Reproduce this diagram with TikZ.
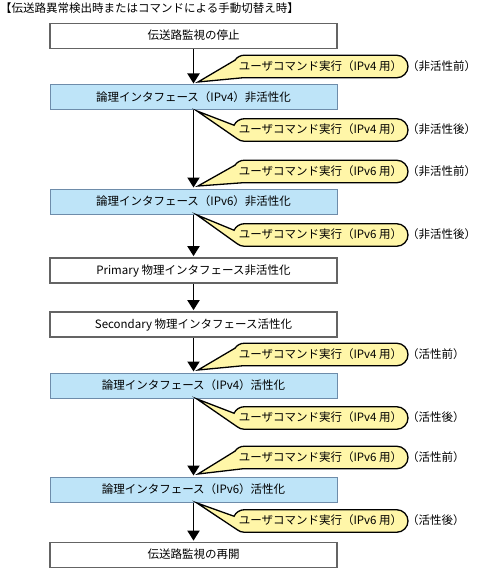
\documentclass[tikz,border=0pt]{standalone}
\usepackage{fontspec}
\setmainfont{Noto Sans CJK JP}
\usetikzlibrary{arrows.meta,calc}
\definecolor{boxblue}{RGB}{190,228,248}
\definecolor{blueline}{RGB}{110,140,170}
\definecolor{grayline}{RGB}{100,100,100}
\definecolor{bubbleyellow}{RGB}{255,246,168}
\newcommand\myfs{\fontsize{11.5pt}{13pt}\selectfont}
\tikzset{
  plainbox/.style={draw=grayline, line width=1.7pt, fill=white, minimum width=287pt, minimum height=25pt, inner sep=0pt, font=\myfs, text height=0.88em, text depth=0.12em},
  bluebox/.style={plainbox, draw=blueline, line width=1pt, fill=boxblue},
  flowarrow/.style={line width=1.9pt, -{Triangle[width=12pt,length=10pt]}, shorten >=1pt},
  bubble/.style={draw=black, line width=1.3pt, fill=bubbleyellow},
  bubbletext/.style={font=\myfs, inner sep=0pt, text height=0.88em, text depth=0.12em},
  sidelabel/.style={font=\myfs, anchor=west, inner sep=0pt, text height=0.88em, text depth=0.12em}
}
% before-type callout: #1 name, #2 centre y, #3 tip y, #4 text, #5 side label
\newcommand\calloutbefore[5]{%
  \coordinate (#1tip) at (198,#3);
  \filldraw[bubble] (#1tip) -- ($(244.25,#2)+(214:11.25)$) arc[start angle=214,end angle=270,radius=11.25]
     -- (396.75,#2-11.25) arc[start angle=270,end angle=450,radius=11.25]
     -- (244.25,#2+11.25) arc[start angle=90,end angle=95,radius=11.25] -- cycle;
  \node[bubbletext] (#1) at (320.5,#2) {#4};
  \node[sidelabel] (#1l) at (407,#2) {#5};
}
% after-type callout
\newcommand\calloutafter[5]{%
  \coordinate (#1tip) at (197,#3);
  \filldraw[bubble] (#1tip) -- ($(244.25,#2)+(205:11.25)$) arc[start angle=205,end angle=270,radius=11.25]
     -- (396.75,#2-11.25) arc[start angle=270,end angle=450,radius=11.25]
     -- (244.25,#2+11.25) arc[start angle=90,end angle=130,radius=11.25] -- cycle;
  \node[bubbletext] (#1) at (320.5,#2) {#4};
  \node[sidelabel] (#1l) at (407,#2) {#5};
}
\begin{document}
\begin{tikzpicture}[x=1pt,y=-1pt]
\useasboundingbox (0,0) rectangle (476,572);
\node[font=\myfs, anchor=west, inner sep=0pt, text height=0.88em, text depth=0.12em] (title) at (0,8.5) {【伝送路異常検出時またはコマンドによる手動切替え時】};

\node[plainbox] (b1) at (193.5,36) {伝送路監視の停止};
\node[bluebox] (b2) at (193.5,97.5) {論理インタフェース（IPv4）非活性化};
\node[bluebox] (b3) at (193.5,201.5) {論理インタフェース（IPv6）非活性化};
\node[plainbox] (b4) at (193.5,270.5) {Primary 物理インタフェース非活性化};
\node[plainbox] (b5) at (193.5,324.5) {Secondary 物理インタフェース活性化};
\node[bluebox] (b6) at (193.5,385.5) {論理インタフェース（IPv4）活性化};
\node[bluebox] (b7) at (193.5,489.5) {論理インタフェース（IPv6）活性化};
\node[plainbox] (b8) at (193.5,555) {伝送路監視の再開};

\draw[flowarrow] (b1) -- (b2);
\draw[flowarrow] (b2) -- (b3);
\draw[flowarrow] (b3) -- (b4);
\draw[flowarrow] (b4) -- (b5);
\draw[flowarrow] (b5) -- (b6);
\draw[flowarrow] (b6) -- (b7);
\draw[flowarrow] (b7) -- (b8);

\calloutbefore{c1}{66.5}{82}{ユーザコマンド実行（IPv4 用）}{（非活性前）}
\calloutafter{c2}{130}{111}{ユーザコマンド実行（IPv4 用）}{（非活性後）}
\calloutbefore{c3}{171.5}{186}{ユーザコマンド実行（IPv6 用）}{（非活性前）}
\calloutafter{c4}{235}{215}{ユーザコマンド実行（IPv6 用）}{（非活性後）}
\calloutbefore{c5}{354.5}{370}{ユーザコマンド実行（IPv4 用）}{（活性前）}
\calloutafter{c6}{418}{399}{ユーザコマンド実行（IPv4 用）}{（活性後）}
\calloutbefore{c7}{457.5}{474}{ユーザコマンド実行（IPv6 用）}{（活性前）}
\calloutafter{c8}{521}{503}{ユーザコマンド実行（IPv6 用）}{（活性後）}
\end{tikzpicture}
\end{document}
